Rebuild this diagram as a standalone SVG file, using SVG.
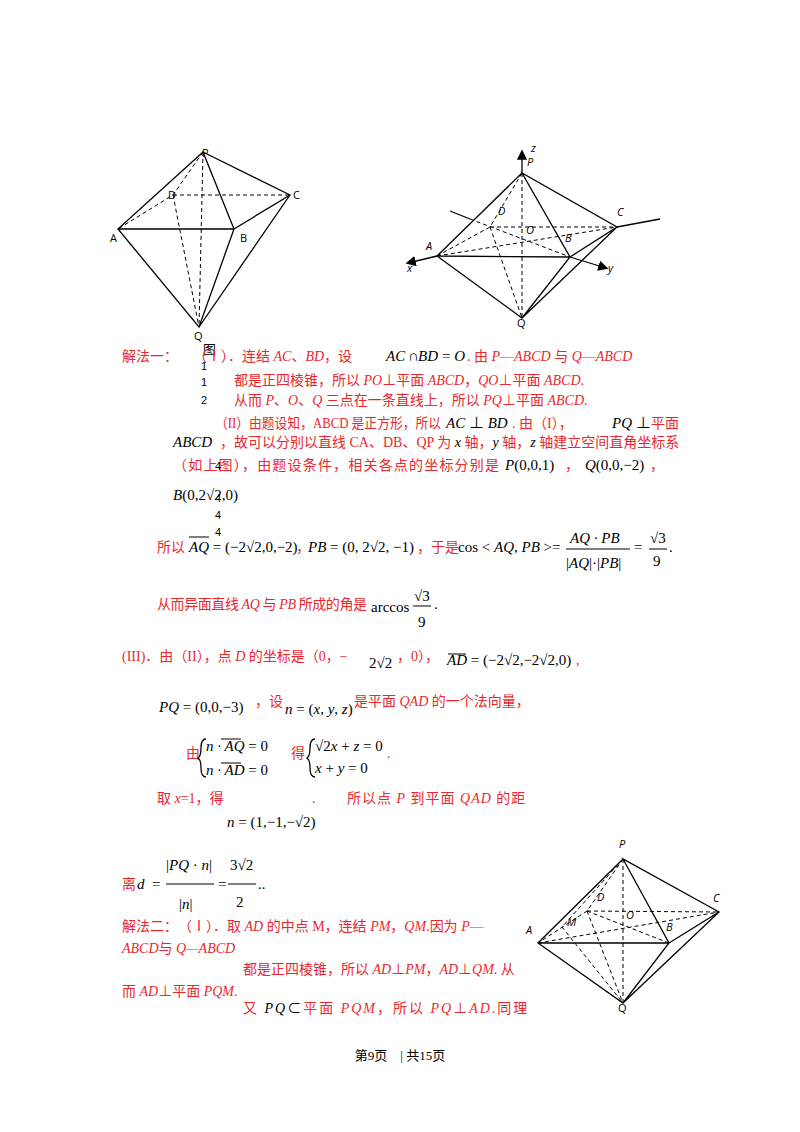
<svg xmlns="http://www.w3.org/2000/svg" width="800" height="1132" viewBox="0 0 800 1132">
<style>
.s{stroke:#000;stroke-width:1.3;fill:none}
.d{stroke:#000;stroke-width:1;fill:none;stroke-dasharray:4,3}
.l{font-family:"Open Sans","DejaVu Sans",sans-serif;font-size:11px;fill:#000}
.li{font-family:"Open Sans","DejaVu Sans",sans-serif;font-size:11px;font-style:italic;fill:#000}
.r{font-family:"Liberation Serif","Noto Sans CJK SC",serif;font-size:14px;fill:#e8282e}
.m{font-family:"Liberation Serif","Noto Sans CJK SC",serif;font-size:15px;fill:#000}
.sm{font-family:"Liberation Sans",sans-serif;font-size:11px;fill:#000}
.f{font-family:"Liberation Serif","Noto Sans CJK SC",serif;font-size:13px;fill:#000}
</style>
<defs><marker id="ar" markerWidth="8" markerHeight="8" refX="6" refY="4" orient="auto"><path d="M0,0L8,4L0,8z" fill="#000"/></marker></defs>
<rect width="800" height="1132" fill="#fff"/>
<g id="fig1">
<path class="s" d="M203,152L118,229L199,327L234,229L203,152L290,195L234,229M118,229L234,229M290,195L199,327"/>
<path class="d" d="M203,152L173,195L118,229M173,195L290,195M203,152L199,327M173,195L199,327"/>
<text class="l" x="202" y="157">P</text><text class="l" x="168" y="199">D</text><text class="l" x="293" y="199">C</text>
<text class="l" x="110" y="242">A</text><text class="l" x="240" y="242">B</text><text class="l" x="194" y="340">Q</text>
<text class="f" x="203" y="354">图</text>
</g>
<g id="fig2">
<path class="s" d="M522,173L522,152" marker-end="url(#ar)"/>
<path class="s" d="M437,256L408,263" marker-end="url(#ar)"/>
<path class="s" d="M570,257L606,268" marker-end="url(#ar)"/>
<path class="s" d="M617,227L660,219M450,211L470,219"/>
<path class="s" d="M522,173L437,256L522,318L570,257L522,173L617,227L570,257M437,256L570,257M617,227L522,318"/>
<path class="d" d="M522,173L490,227L437,256M490,227L617,227M437,256L617,227M470,219L570,257M522,173L522,318M490,227L522,318"/>
<text class="li" x="531" y="152">z</text><text class="li" x="527" y="166">P</text><text class="li" x="498" y="215">D</text>
<text class="li" x="617" y="216">C</text><text class="li" x="526" y="234">O</text><text class="li" x="565" y="242">B</text>
<text class="li" x="426" y="250">A</text><text class="li" x="407" y="272">x</text><text class="li" x="608" y="272">y</text>
<text class="l" x="517" y="327">Q</text>
</g>
<g id="fig3">
<path class="s" d="M623,859L538,943L623,1003L669,943L623,859L719,912L669,943M538,943L669,943M719,912L623,1003"/>
<path class="d" d="M623,859L587,911L538,943M587,911L719,912M538,943L719,912M587,911L669,943M623,859L623,1003M587,911L623,1003M623,859L562,927L623,1003"/>
<text class="li" x="619" y="848">P</text><text class="li" x="597" y="901">D</text><text class="li" x="713" y="902">C</text>
<text class="li" x="626" y="919">O</text><text class="li" x="666" y="931">B</text><text class="li" x="567" y="926">M</text>
<text class="li" x="526" y="934">A</text><text class="l" x="618" y="1012">Q</text>
</g>
<g id="text">
<text class="r" x="122" y="361">解法一：</text>
<text class="r" x="193" y="361">（Ⅰ）．连结 <tspan font-style="italic">AC</tspan>、<tspan font-style="italic">BD</tspan>，设</text>
<text class="m" x="386" y="361" font-style="italic">AC</text><text class="m" x="408" y="361">∩</text><text class="m" x="418" y="361" font-style="italic">BD</text><text class="m" x="442" y="361">= <tspan font-style="italic">O</tspan></text>
<text class="r" x="467" y="361">. 由 <tspan font-style="italic">P</tspan>—<tspan font-style="italic">ABCD</tspan> 与 <tspan font-style="italic">Q</tspan>—<tspan font-style="italic">ABCD</tspan></text>
<text class="sm" x="201" y="370">1</text><text class="sm" x="201" y="386">1</text><text class="sm" x="201" y="404">2</text>
<text class="r" x="234" y="385">都是正四棱锥，所以 <tspan font-style="italic">PO</tspan>⊥平面 <tspan font-style="italic">ABCD</tspan>，<tspan font-style="italic">QO</tspan>⊥平面 <tspan font-style="italic">ABCD</tspan>.</text>
<text class="r" x="234" y="405">从而 <tspan font-style="italic">P</tspan>、<tspan font-style="italic">O</tspan>、<tspan font-style="italic">Q</tspan> 三点在一条直线上，所以 <tspan font-style="italic">PQ</tspan>⊥平面 <tspan font-style="italic">ABCD</tspan>.</text>
<text class="r" x="215" y="428" textLength="226" lengthAdjust="spacingAndGlyphs">（II）由题设知，ABCD 是正方形，所以</text>
<text class="m" x="446" y="428" font-style="italic">AC <tspan font-style="normal">⊥</tspan> BD</text>
<text class="r" x="512" y="428">. 由（I），</text>
<text class="m" x="612" y="428" font-style="italic">PQ <tspan font-style="normal">⊥</tspan></text>
<text class="r" x="651" y="428">平面</text>
<text class="m" x="173" y="447" font-style="italic">ABCD</text>
<text class="r" x="220" y="447">，故可以分别以直线 CA、DB、QP 为 <tspan fill="#000" font-style="italic">x</tspan> 轴，<tspan fill="#000" font-style="italic">y</tspan> 轴，<tspan fill="#000" font-style="italic">z</tspan> 轴建立空间直角坐标系</text>
<text class="r" x="173" y="470" textLength="326" lengthAdjust="spacing">（如上图），由题设条件，相关各点的坐标分别是</text>
<text class="m" x="505" y="470"><tspan font-style="italic">P</tspan>(0,0,1)</text><text class="r" x="565" y="470">，</text>
<text class="m" x="585" y="470"><tspan font-style="italic">Q</tspan>(0,0,−2)</text><text class="r" x="650" y="470">，</text>
<text class="sm" x="215" y="470">4</text>
<text class="m" x="173" y="500"><tspan font-style="italic">B</tspan>(0,2√2,0)</text>
<text class="sm" x="215" y="502">4</text><text class="sm" x="215" y="519">4</text><text class="sm" x="215" y="536">4</text>
<text class="r" x="157" y="552">所以</text>
<text class="m" x="189" y="552" font-size="13"><tspan font-style="italic">AQ</tspan> = (−2√2,0,−2)</text>
<line x1="189" y1="537" x2="209" y2="537" stroke="#000"/>
<text class="r" x="296" y="552">，</text>
<text class="m" x="308" y="552" font-size="16"><tspan font-style="italic">PB</tspan> = (0, 2√2, −1)</text>
<text class="r" x="417" y="552">，于是</text>
<text class="m" x="458" y="552" font-size="16">cos &lt; <tspan font-style="italic">AQ</tspan>, <tspan font-style="italic">PB</tspan> &gt;=</text>
<text class="m" x="570" y="543" font-size="15" font-style="italic">AQ · PB</text>
<line x1="566" y1="549" x2="630" y2="549" stroke="#000"/>
<text class="m" x="566" y="568" font-size="15">|<tspan font-style="italic">AQ</tspan>|·|<tspan font-style="italic">PB</tspan>|</text>
<text class="m" x="634" y="552">=</text>
<text class="m" x="650" y="543">√3</text><line x1="649" y1="549" x2="667" y2="549" stroke="#000"/><text class="m" x="653" y="566">9</text>
<text class="m" x="669" y="552">.</text>
<text class="r" x="157" y="609" textLength="210" lengthAdjust="spacing">从而异面直线 <tspan font-style="italic">AQ</tspan> 与 <tspan font-style="italic">PB</tspan> 所成的角是</text>
<text class="m" x="371" y="612">arccos</text>
<text class="m" x="414" y="601">√3</text><line x1="413" y1="606" x2="431" y2="606" stroke="#000"/><text class="m" x="418" y="627">9</text>
<text class="m" x="434" y="609">.</text>
<text class="r" x="122" y="661">(III)．由（II），点 <tspan font-style="italic">D</tspan> 的坐标是（0，−</text>
<text class="m" x="369" y="668" font-size="13">2√2</text>
<text class="r" x="397" y="661">，0），</text>
<text class="m" x="447" y="665" font-size="13"><tspan font-style="italic">AD</tspan> = (−2√2,−2√2,0)</text>
<line x1="448" y1="654" x2="466" y2="654" stroke="#000"/>
<text class="r" x="576" y="665">,</text>
<text class="m" x="159" y="712" font-size="16"><tspan font-style="italic">PQ</tspan> = (0,0,−3)</text>
<text class="r" x="255" y="706">，设</text>
<text class="m" x="285" y="714" font-size="12"><tspan font-style="italic">n</tspan> = (<tspan font-style="italic">x</tspan>, <tspan font-style="italic">y</tspan>, <tspan font-style="italic">z</tspan>)</text>
<text class="r" x="354" y="706">是平面 <tspan font-style="italic">QAD</tspan> 的一个法向量，</text>
<text class="r" x="186" y="758">由</text>
<path d="M206,739Q201,739 201,748Q201,756 198,758Q201,760 201,768Q201,777 206,777" class="s" stroke-width="0.8"/>
<text class="m" x="206" y="751" font-size="13"><tspan font-style="italic">n · AQ</tspan> = 0</text>
<text class="m" x="206" y="775" font-size="13"><tspan font-style="italic">n · AD</tspan> = 0</text>
<line x1="221" y1="739" x2="241" y2="739" stroke="#000"/><line x1="221" y1="763" x2="241" y2="763" stroke="#000"/>
<text class="r" x="291" y="758">得</text>
<path d="M315,739Q310,739 310,748Q310,756 307,758Q310,760 310,768Q310,777 315,777" class="s" stroke-width="0.8"/>
<text class="m" x="315" y="751" font-size="13">√2<tspan font-style="italic">x</tspan> + <tspan font-style="italic">z</tspan> = 0</text>
<text class="m" x="315" y="773" font-size="13"><tspan font-style="italic">x</tspan> + <tspan font-style="italic">y</tspan> = 0</text>
<text class="r" x="387" y="758">.</text>
<text class="r" x="157" y="803">取 <tspan font-style="italic">x</tspan>=1，得</text>
<text class="r" x="312" y="803">.</text>
<text class="r" x="347" y="803" letter-spacing="1">所以点 <tspan font-style="italic">P</tspan> 到平面 <tspan font-style="italic">QAD</tspan> 的距</text>
<text class="m" x="227" y="827" font-size="12"><tspan font-style="italic">n</tspan> = (1,−1,−√2)</text>
<text class="r" x="122" y="889">离</text>
<text class="m" x="137" y="889" font-size="18" font-style="italic">d</text><text class="m" x="152" y="889" font-size="16">=</text>
<text class="m" x="166" y="870" font-size="17">|<tspan font-style="italic">PQ</tspan> · <tspan font-style="italic">n</tspan>|</text>
<line x1="166" y1="884" x2="214" y2="884" stroke="#000"/>
<text class="m" x="179" y="909" font-size="17">|<tspan font-style="italic">n</tspan>|</text>
<text class="m" x="218" y="889" font-size="16">=</text>
<text class="m" x="230" y="870" font-size="16">3√2</text><line x1="228" y1="884" x2="256" y2="884" stroke="#000"/><text class="m" x="236" y="907" font-size="16">2</text>
<text class="m" x="258" y="889">..</text>
<text class="r" x="122" y="931">解法二：　（Ⅰ）．取 <tspan font-style="italic">AD</tspan> 的中点 M，连结 <tspan font-style="italic">PM</tspan>，<tspan font-style="italic">QM</tspan>.因为 <tspan font-style="italic">P</tspan>—</text>
<text class="r" x="122" y="953" font-style="italic">ABCD<tspan font-style="normal">与</tspan> Q—ABCD</text>
<text class="r" x="243" y="974">都是正四棱锥，所以 <tspan font-style="italic">AD</tspan>⊥<tspan font-style="italic">PM</tspan>，<tspan font-style="italic">AD</tspan>⊥<tspan font-style="italic">QM</tspan>. 从</text>
<text class="r" x="122" y="996">而 <tspan font-style="italic">AD</tspan>⊥平面 <tspan font-style="italic">PQM</tspan>.</text>
<text class="r" x="243" y="1013" letter-spacing="2">又 <tspan fill="#000" font-style="italic">PQ</tspan><tspan fill="#000">⊂</tspan>平面 <tspan font-style="italic">PQM</tspan>，所以 <tspan font-style="italic">PQ</tspan>⊥<tspan font-style="italic">AD</tspan>.同理</text>
<text class="f" x="400" y="1060" text-anchor="middle">第9页　| 共15页</text>
</g>
</svg>
